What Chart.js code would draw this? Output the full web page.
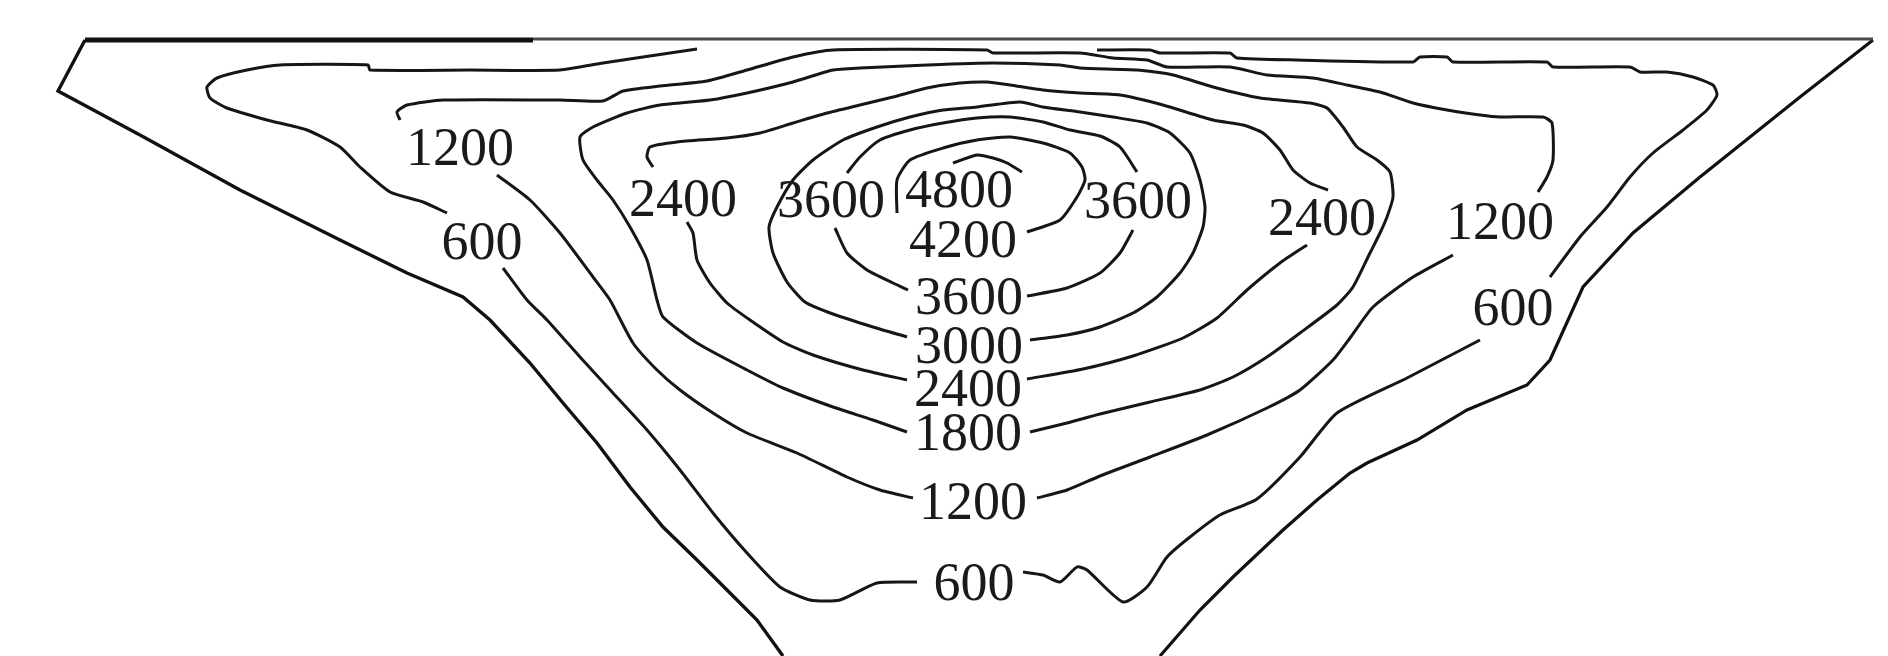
<!DOCTYPE html>
<html>
<head>
<meta charset="utf-8">
<script src="https://cdn.jsdelivr.net/npm/chart.js@4.4.1/dist/chart.umd.min.js"></script>
<style>
  html, body { margin: 0; padding: 0; background: #fff; }
  #wrap { width: 1888px; height: 656px; }
</style>
</head>
<body>
<div id="wrap"><canvas id="isoChart" width="1888" height="656"></canvas></div>
<script>
// Sección transversal: distancia (x) y profundidad (y), mismas unidades de la imagen
const surfaceLeft = [[85, 40], [533, 40]];
const surfaceRight = [[533, 39], [1873, 39]];

const bedLeft = [[85, 40], [58, 91], [140, 135], [240, 190], [340, 240], [407, 273], [463, 297],
  [490, 320], [530, 363], [563, 403], [597, 443], [630, 487], [663, 527], [697, 560], [730, 593],
  [757, 620], [783, 656]];
const bedRight = [[1873, 40], [1800, 97], [1700, 177], [1633, 233], [1583, 287], [1550, 360],
  [1527, 385], [1467, 410], [1417, 440], [1367, 463], [1350, 473], [1317, 500], [1283, 530],
  [1233, 577], [1200, 610], [1160, 656]];

// Isolíneas (valor en el nombre)
const iso600Top = [[697, 49], [670, 53], [643, 57], [603, 63], [560, 70], [470, 70], [370, 70],
  [368, 65], [280, 65], [247, 70], [217, 78], [207, 87], [210, 98], [227, 108], [267, 120],
  [307, 130], [340, 147], [360, 167], [390, 192], [423, 202], [447, 213]];
const iso600Bottom = [[503, 268], [527, 300], [547, 320], [580, 357], [613, 393], [647, 430],
  [680, 470], [713, 513], [747, 553], [780, 587], [810, 600], [840, 600], [877, 583], [917, 582]];
const iso600Mid = [[1023, 572], [1043, 575], [1060, 582], [1077, 567], [1087, 570], [1123, 602],
  [1147, 587], [1167, 557], [1190, 537], [1220, 515], [1257, 499], [1300, 457], [1337, 413],
  [1407, 378], [1480, 340]];
const iso600Right = [[1550, 277], [1580, 237], [1607, 207], [1630, 177], [1653, 153], [1683, 130],
  [1707, 110], [1717, 95], [1713, 85], [1693, 77], [1667, 72], [1640, 72], [1630, 67], [1553, 67],
  [1547, 62], [1453, 62], [1447, 57], [1420, 57], [1413, 62], [1297, 60], [1237, 58], [1230, 53],
  [1160, 53], [1150, 50], [1097, 50]];

const iso1200Top = [[400, 120], [397, 112], [407, 105], [443, 100], [560, 100], [603, 101],
  [623, 91], [660, 86], [707, 81], [747, 70], [793, 57], [833, 50], [987, 50], [993, 53],
  [1080, 53], [1113, 58], [1147, 60], [1167, 67], [1230, 67], [1267, 75], [1313, 78], [1347, 85],
  [1380, 92], [1413, 103], [1447, 110], [1480, 115], [1500, 117], [1543, 117], [1552, 123],
  [1553, 160], [1547, 177], [1538, 192]];
const iso1200Right = [[1453, 255], [1413, 277], [1373, 307], [1350, 338], [1333, 360], [1300, 390],
  [1267, 408], [1207, 435], [1150, 457], [1100, 476], [1067, 490], [1037, 498]];
const iso1200Left = [[913, 498], [880, 490], [847, 477], [797, 453], [747, 433], [713, 413],
  [680, 390], [657, 370], [633, 343], [610, 300], [593, 277], [560, 233], [530, 200], [497, 175]];

const iso1800Left = [[907, 432], [873, 420], [833, 407], [783, 388], [747, 370], [697, 343],
  [663, 317], [657, 300], [647, 260], [630, 227], [613, 200], [597, 180], [583, 160], [580, 137],
  [593, 127], [627, 113], [660, 105], [710, 100], [747, 93], [793, 82], [833, 70], [860, 68],
  [927, 65], [993, 63], [1060, 65], [1080, 68], [1137, 70], [1173, 75], [1213, 87], [1260, 98],
  [1310, 103], [1327, 108], [1343, 127], [1357, 147], [1377, 160], [1390, 172], [1393, 197],
  [1387, 217], [1380, 233], [1370, 253], [1353, 287], [1337, 305], [1300, 333], [1267, 357],
  [1233, 377], [1200, 390], [1150, 402], [1100, 414], [1067, 423], [1030, 432]];

const iso2400Top = [[653, 167], [647, 157], [650, 147], [677, 142], [727, 138], [760, 133],
  [793, 123], [827, 113], [860, 105], [893, 97], [927, 88], [960, 83], [987, 82], [1010, 85],
  [1043, 90], [1080, 93], [1120, 95], [1163, 105], [1213, 120], [1243, 125], [1263, 133],
  [1280, 150], [1293, 170], [1310, 183], [1328, 190]];
const iso2400Right = [[1307, 245], [1280, 263], [1247, 290], [1217, 318], [1183, 338], [1133, 356],
  [1083, 369], [1027, 379]];
const iso2400Left = [[907, 380], [863, 370], [813, 355], [783, 342], [750, 320], [727, 303],
  [710, 283], [697, 260], [693, 233], [687, 222]];

const iso3000 = [[907, 337], [873, 327], [833, 314], [805, 302], [787, 282], [773, 253], [769, 227],
  [777, 207], [793, 180], [813, 160], [843, 140], [877, 127], [910, 117], [943, 110], [977, 107],
  [1020, 102], [1043, 107], [1080, 112], [1113, 117], [1147, 123], [1170, 133], [1190, 153],
  [1200, 180], [1205, 207], [1203, 227], [1193, 253], [1180, 273], [1157, 297], [1133, 313],
  [1100, 327], [1067, 335], [1030, 340]];

const iso3600Top = [[847, 173], [860, 157], [880, 140], [910, 130], [943, 123], [977, 118],
  [1010, 117], [1043, 122], [1070, 130], [1100, 136], [1120, 147], [1137, 172]];
const iso3600Right = [[1133, 230], [1120, 253], [1100, 273], [1067, 288], [1027, 296]];
const iso3600Left = [[908, 290], [893, 283], [867, 270], [847, 253], [835, 228]];

const iso4200 = [[897, 213], [897, 180], [910, 160], [943, 148], [977, 140], [1010, 137],
  [1043, 143], [1070, 153], [1082, 167], [1085, 180], [1077, 197], [1060, 220], [1027, 232]];

const iso4800 = [[953, 163], [977, 155], [993, 158], [1007, 163], [1022, 172]];

// Etiquetas de las isolíneas
const labelTexts = ["1200", "600", "2400", "3600", "4800", "4200", "3600", "2400", "1200", "600",
  "3600", "3000", "2400", "1800", "1200", "600"];
const labelX = [460, 482, 683, 831, 959, 963, 1138, 1322, 1500, 1513, 969, 969, 968, 968, 973, 974];
const labelY = [147, 241, 198, 199, 189, 239, 200, 217, 221, 307, 296, 345, 388, 432, 501, 582];

const toPoints = (arr) => arr.map(([x, y]) => ({ x, y }));

function lineSet(arr, width, color, tension) {
  return {
    data: toPoints(arr),
    showLine: true,
    borderColor: color || "#161616",
    borderWidth: width || 3,
    pointRadius: 0,
    tension: tension === undefined ? 0.2 : tension,
    fill: false,
  };
}

const contours = [iso600Top, iso600Bottom, iso600Mid, iso600Right, iso1200Top, iso1200Right,
  iso1200Left, iso1800Left, iso2400Top, iso2400Right, iso2400Left, iso3000, iso3600Top,
  iso3600Right, iso3600Left, iso4200, iso4800];

const datasets = [
  lineSet(surfaceRight, 3, "#4a4a4a", 0),
  lineSet(surfaceLeft, 5, "#111", 0),
  lineSet(bedLeft, 3.4, "#111", 0),
  lineSet(bedRight, 3.2, "#111", 0),
  ...contours.map((c) => lineSet(c)),
];

// Plugin para dibujar los valores de las isolíneas
const isoLabels = {
  id: "isoLabels",
  afterDatasetsDraw(chart) {
    const { ctx, scales } = chart;
    const size = 54;
    ctx.save();
    ctx.font = size + 'px "Liberation Serif", "Times New Roman", serif';
    ctx.fillStyle = "#1a1a1a";
    ctx.textAlign = "center";
    ctx.textBaseline = "alphabetic";
    labelTexts.forEach((t, i) => {
      const px = scales.x.getPixelForValue(labelX[i]);
      const py = scales.y.getPixelForValue(labelY[i]);
      ctx.fillText(t, px, py + size * 0.33);
    });
    ctx.restore();
  },
};

new Chart(document.getElementById("isoChart"), {
  type: "scatter",
  data: { datasets },
  options: {
    responsive: false,
    animation: false,
    layout: { padding: 0 },
    plugins: { legend: { display: false }, tooltip: { enabled: false } },
    scales: {
      x: { type: "linear", min: 0, max: 1888, display: false },
      y: { type: "linear", min: 0, max: 656, reverse: true, display: false },
    },
  },
  plugins: [isoLabels],
});
</script>
</body>
</html>
